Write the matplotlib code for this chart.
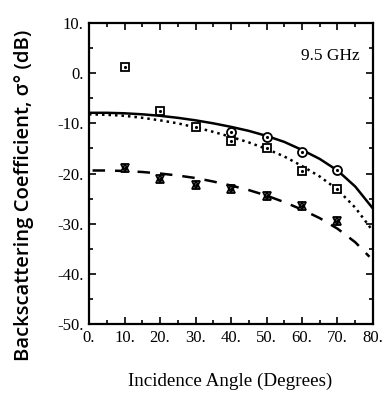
import matplotlib
matplotlib.use("Agg")
import matplotlib.pyplot as plt
from matplotlib.ticker import MultipleLocator, FormatStrFormatter

plt.rcParams['font.family'] = ['Liberation Serif', 'DejaVu Serif']

# Measured data points
circ_ang = [40, 50, 60, 70]
circ_val = [-11.7, -12.7, -15.8, -19.4]
sq_ang = [10, 20, 30, 40, 50, 60, 70]
sq_val = [1.2, -7.5, -10.7, -13.5, -15.0, -19.5, -23.1]
star_ang = [10, 20, 30, 40, 50, 60, 70]
star_val = [-18.9, -21.1, -22.3, -23.1, -24.5, -26.4, -29.4]

# Model curves
curve_ang = [0, 5, 10, 15, 20, 25, 30, 35, 40, 45, 50, 55, 60, 65, 70, 75, 80]
solid_val = [-7.9, -7.9, -8.0, -8.2, -8.5, -8.9, -9.4, -10.0, -10.7, -11.5,
             -12.5, -13.7, -15.3, -17.1, -19.4, -22.6, -27.0]
dotted_val = [-8.2, -8.3, -8.5, -8.9, -9.4, -10.0, -10.8, -11.7, -12.7, -13.8,
              -15.1, -16.6, -18.5, -20.6, -23.2, -26.8, -31.5]
dashed_ang = [1, 5, 10, 15, 20, 25, 30, 35, 40, 45, 50, 55, 60, 65, 70, 75, 79]
dashed_val = [-19.4, -19.4, -19.5, -19.7, -20.0, -20.4, -20.9, -21.6, -22.4, -23.3,
              -24.4, -25.7, -27.2, -28.9, -31.0, -33.7, -36.6]

fig = plt.figure(figsize=(3.86, 3.96), dpi=100)
ax = fig.add_axes([89/386, 1-324/396, (373-89)/386, (324-23)/396])

ax.plot(curve_ang, solid_val, color='black', lw=1.8, solid_capstyle='butt')
ax.plot(curve_ang, dotted_val, color='black', lw=1.8, linestyle=(0, (1, 1.6)))
ax.plot(dashed_ang, dashed_val, color='black', lw=1.8, linestyle=(0, (5, 4)))

mk = dict(color='black', mfc='white', mec='black', linestyle='none', mew=1.3)
ax.plot(circ_ang, circ_val, marker='o', ms=6.5, **mk)
ax.plot(sq_ang, sq_val, marker='s', ms=5.5, **mk)
ax.plot(star_ang, star_val, marker='^', ms=6, **mk)
ax.plot(star_ang, star_val, marker='v', ms=6, color='black', mfc='none',
        mec='black', linestyle='none', mew=1.3)
for a, v in [(circ_ang, circ_val), (sq_ang, sq_val), (star_ang, star_val)]:
    ax.plot(a, v, marker='.', ms=2.5, color='black', linestyle='none')

ax.set_xlim(0, 80)
ax.set_ylim(-50, 10)
ax.xaxis.set_major_locator(MultipleLocator(10))
ax.xaxis.set_minor_locator(MultipleLocator(5))
ax.yaxis.set_major_locator(MultipleLocator(10))
ax.yaxis.set_minor_locator(MultipleLocator(5))
ax.xaxis.set_major_formatter(FormatStrFormatter('%d.'))
ax.yaxis.set_major_formatter(FormatStrFormatter('%d.'))
ax.tick_params(which='both', direction='in', top=True, right=True, width=1.2,
               labelsize=12, pad=4)
ax.tick_params(which='major', length=5)
ax.tick_params(which='minor', length=3)
for s in ax.spines.values():
    s.set_linewidth(1.6)

ax.text(76.3, 3.4, '9.5 GHz', ha='right', va='center', fontsize=12.5)

fig.text(230/386, 1-381/396, 'Incidence Angle (Degrees)', ha='center', va='center',
         fontsize=13.7)
fig.text(24/386, 1-195/396, 'Backscattering Coefficient, σ° (dB)', ha='center', va='center',
         rotation=90, fontsize=14.6, family=['Open Sans', 'DejaVu Sans'], fontweight='semibold')

fig.savefig('out.png', dpi=100)
